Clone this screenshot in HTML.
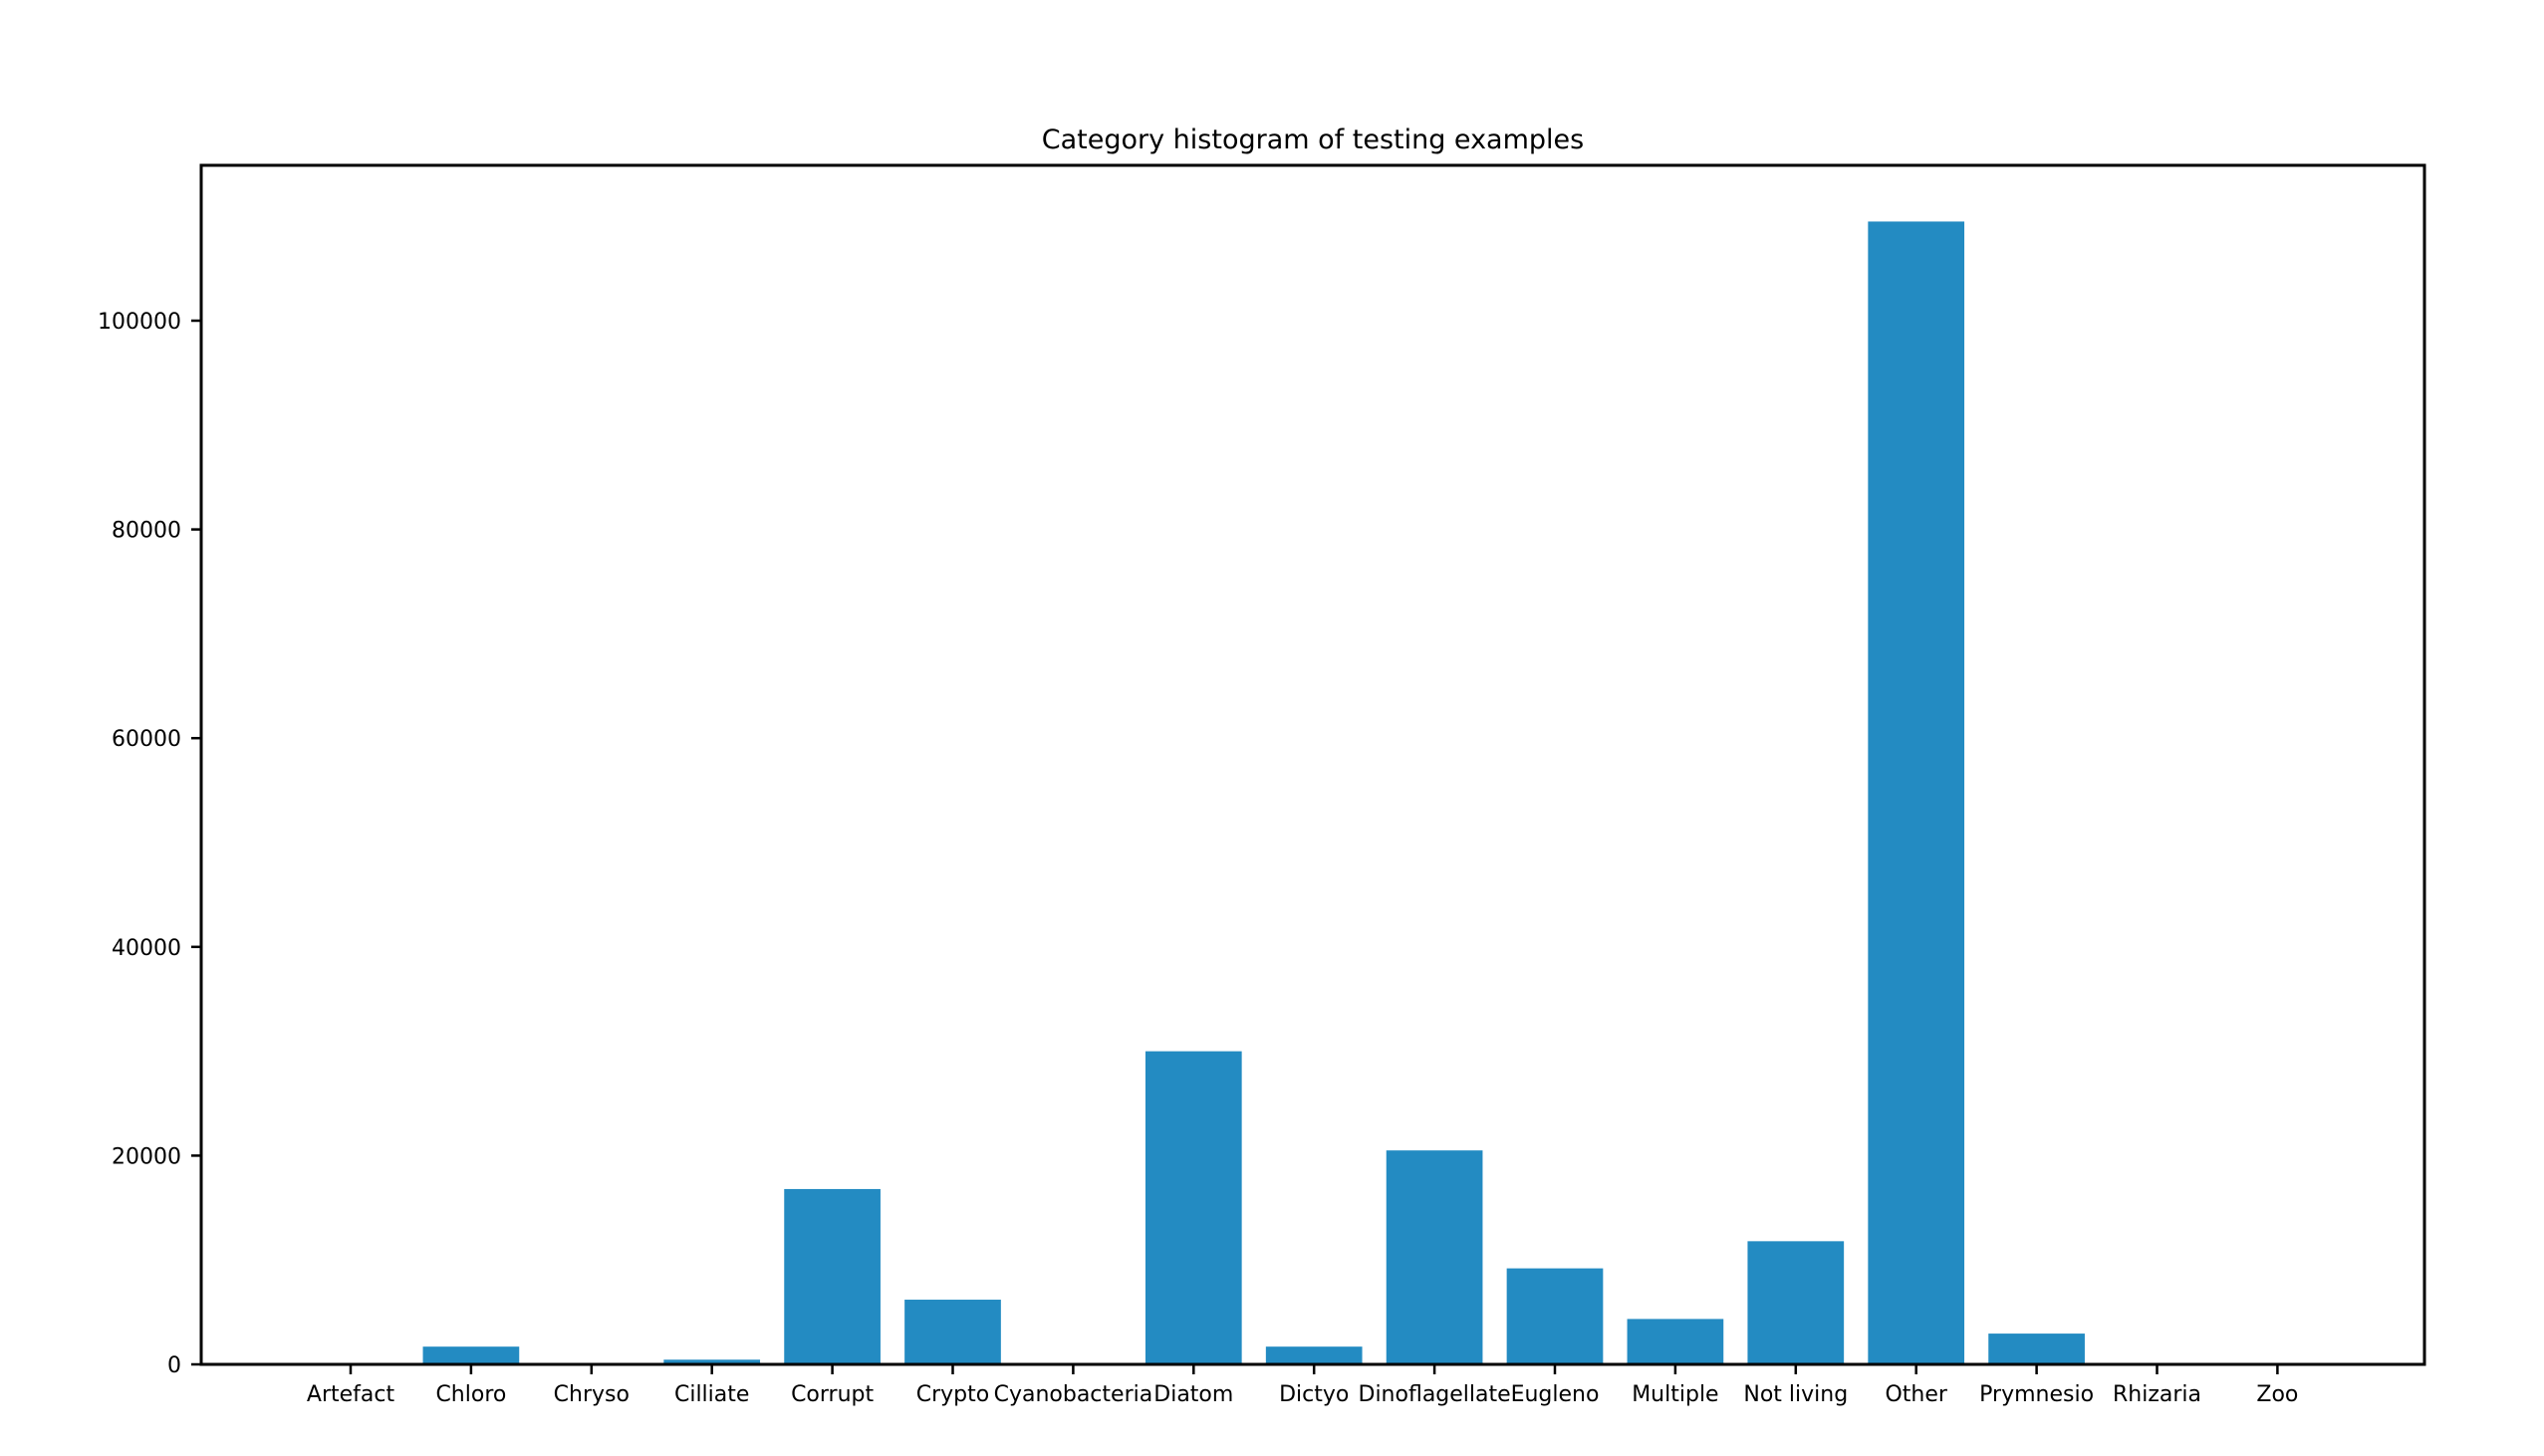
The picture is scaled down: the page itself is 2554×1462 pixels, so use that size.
<!DOCTYPE html>
<html><head><meta charset="utf-8">
<style>
html,body{margin:0;padding:0;background:#fff;}
svg{display:block;font-family:"DejaVu Sans","Liberation Sans",sans-serif;}
</style></head>
<body>
<svg id="chart" width="2554" height="1462" viewBox="0 0 2554 1462" xmlns="http://www.w3.org/2000/svg">
<rect width="2554" height="1462" fill="#fff"/>
<text x="1318" y="149" font-size="27" text-anchor="middle" fill="#000">Category histogram of testing examples</text>
<g id="bars"></g>
<g id="xticks"></g>
<g id="yticks"></g>
<rect x="202" y="166" width="2232" height="1204" fill="none" stroke="#000" stroke-width="3"/>
</svg>
<script>
const categories = ["Artefact","Chloro","Chryso","Cilliate","Corrupt","Crypto","Cyanobacteria","Diatom","Dictyo","Dinoflagellate","Eugleno","Multiple","Not living","Other","Prymnesio","Rhizaria","Zoo"];
const counts = [20,1700,10,450,16800,6200,10,30000,1700,20500,9200,4350,11800,109500,2950,10,10];
const yTicks = [0,20000,40000,60000,80000,100000];

const NS="http://www.w3.org/2000/svg";
const x0=352, step=120.9, barW=96.7;
const yBase=1370, pxPerUnit=(1370-322)/100000;
function xScale(i){return x0+i*step;}
function yScale(v){return yBase-v*pxPerUnit;}

const bars=document.getElementById('bars');
const xt=document.getElementById('xticks');
const yt=document.getElementById('yticks');
categories.forEach((c,i)=>{
  const r=document.createElementNS(NS,'rect');
  
  
  r.setAttribute('x',xScale(i)-barW/2);
  r.setAttribute('y',yScale(counts[i]));
  r.setAttribute('width',barW);
  r.setAttribute('height',yBase-yScale(counts[i]));
  r.setAttribute('fill','#238bc2');
  bars.appendChild(r);
  const l=document.createElementNS(NS,'line');
  
  
  l.setAttribute('x1',xScale(i));l.setAttribute('x2',xScale(i));
  l.setAttribute('y1',yBase);l.setAttribute('y2',yBase+10);
  l.setAttribute('stroke','#000');l.setAttribute('stroke-width','2.5');
  xt.appendChild(l);
  const t=document.createElementNS(NS,'text');
  
  
  t.setAttribute('x',xScale(i));t.setAttribute('y',1407);
  t.setAttribute('font-size','22');t.setAttribute('text-anchor','middle');
  t.textContent=c;
  xt.appendChild(t);
});
yTicks.forEach(v=>{
  const l=document.createElementNS(NS,'line');
  
  
  l.setAttribute('x1',192);l.setAttribute('x2',202);
  l.setAttribute('y1',yScale(v));l.setAttribute('y2',yScale(v));
  l.setAttribute('stroke','#000');l.setAttribute('stroke-width','2.5');
  yt.appendChild(l);
  const t=document.createElementNS(NS,'text');
  
  
  t.setAttribute('x',182);t.setAttribute('y',yScale(v)+8);
  t.setAttribute('font-size','22');t.setAttribute('text-anchor','end');
  t.textContent=String(v);
  yt.appendChild(t);
});
</script>
</body></html>
